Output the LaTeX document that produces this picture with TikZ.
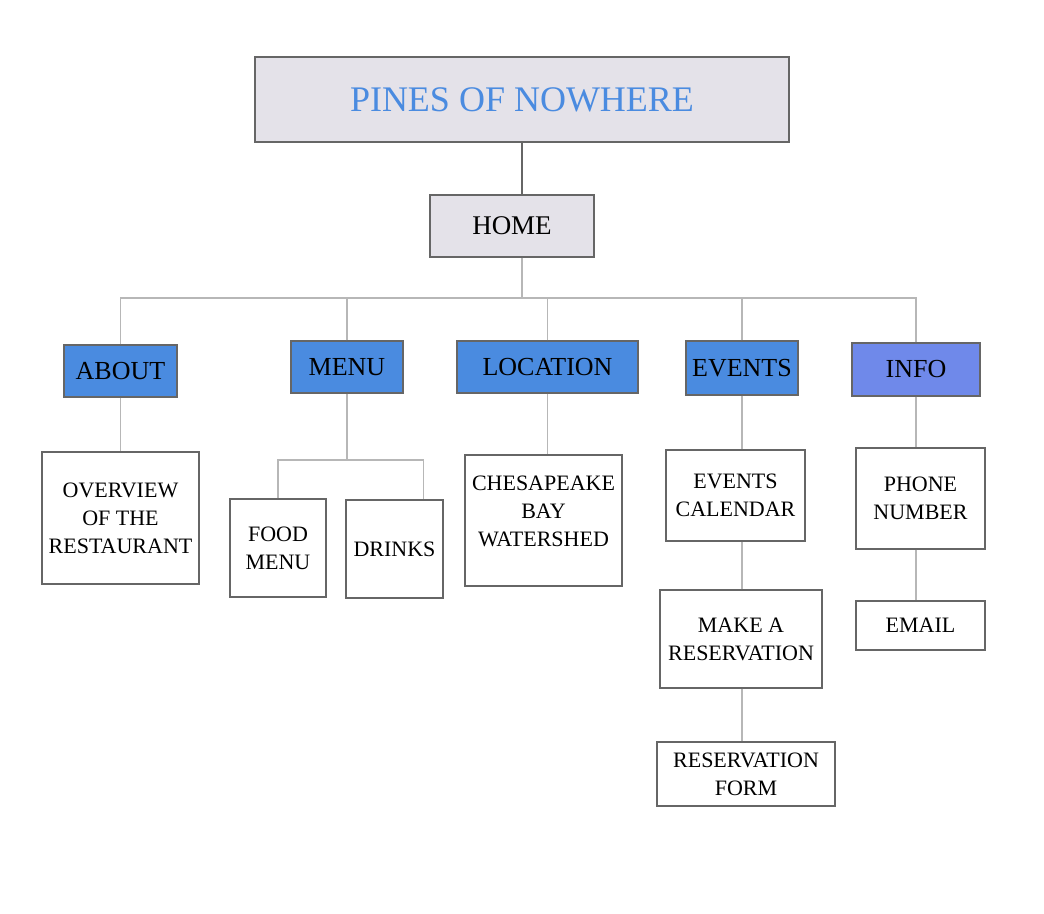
\documentclass[tikz,border=0pt]{standalone}
\usepackage{fontspec}
\setmainfont{Liberation Serif}

\definecolor{titlefill}{HTML}{E4E2E9}
\definecolor{titleblue}{HTML}{4A8BE0}
\definecolor{headblue}{HTML}{4A8BE0}
\definecolor{infoblue}{HTML}{6F89EA}
\definecolor{edge}{HTML}{666666}
\definecolor{wire}{HTML}{B7B7B7}

\begin{document}
\begin{tikzpicture}[x=1pt, y=-1pt,
    box/.style={draw=edge, line width=1.2pt, inner sep=0pt, align=center},
    leaf/.style={box, fill=white, font=\fontsize{22}{28}\selectfont},
    head/.style={box, fill=headblue, font=\fontsize{26}{30}\selectfont},
    link/.style={draw=wire, line width=1.5pt},
    dark/.style={draw=edge, line width=1.2pt}]
  \useasboundingbox (0,0) rectangle (1044,913);

      \node[box, fill=titlefill, text=titleblue, font=\fontsize{36}{40}\selectfont,
        minimum width=534pt, minimum height=85pt] (title) at (522,99.5) {PINES OF NOWHERE};
      \node[box, fill=titlefill, font=\fontsize{27}{30}\selectfont,
        minimum width=164pt, minimum height=62pt] (home) at (512,226) {HOME};

      \node[head, minimum width=113pt, minimum height=52pt] (about) at (120.5,371) {ABOUT};
      \node[head, minimum width=112pt, minimum height=52pt] (menu) at (347,367) {MENU};
      \node[head, minimum width=181pt, minimum height=52pt] (location) at (547.5,367) {LOCATION};
      \node[head, minimum width=112pt, minimum height=54pt] (events) at (742,368) {EVENTS};
      \node[head, fill=infoblue, minimum width=128pt, minimum height=53pt] (info) at (916,369.5) {INFO};

      \node[leaf, minimum width=157pt, minimum height=132pt] (overview) at (120.5,518) {OVERVIEW\\OF THE\\RESTAURANT};
      \node[leaf, minimum width=96pt, minimum height=98pt] (food) at (278,548) {FOOD\\MENU};
      \node[leaf, minimum width=97pt, minimum height=98pt] (drinks) at (394.5,549) {DRINKS};
      \node[leaf, minimum width=157pt, minimum height=131pt, text depth=18pt] (bay) at (543.5,520.5) {CHESAPEAKE\\BAY\\WATERSHED};
      \node[leaf, minimum width=139pt, minimum height=91pt] (calendar) at (735.5,495.5) {EVENTS\\CALENDAR};
      \node[leaf, minimum width=162pt, minimum height=98pt] (reserve) at (741,639) {MAKE A\\RESERVATION};
      \node[leaf, minimum width=178pt, minimum height=64pt] (form) at (746,774) {RESERVATION\\FORM};
      \node[leaf, minimum width=129pt, minimum height=101pt] (phone) at (920.5,498.5) {PHONE\\NUMBER};
      \node[leaf, minimum width=129pt, minimum height=49pt] (email) at (920.5,625.5) {EMAIL};

      \coordinate (bus) at (522,298);
      \coordinate (fork) at (347,460);

    \draw[dark] (title.south -| bus) -- (home.north -| bus);
    \draw[link] (home.south -| bus) -- (bus);
    \draw[link] (about.north) |- (bus);
    \draw[link] (menu.north) |- (bus);
    \draw[link] (location.north) |- (bus);
    \draw[link] (events.north) |- (bus);
    \draw[link] (info.north) |- (bus);

    \draw[link] (about) -- (overview);
    \draw[link] (menu.south) -- (fork);
    \draw[link] (food.north) |- (fork) -| ([xshift=-20pt]drinks.north east);
    \draw[link] (location.south) -- (location.south |- bay.north);
    \draw[link] (events.south) -- (events.south |- calendar.north);
    \draw[link] (reserve.north -| events.south) -- (calendar.south -| events.south);
    \draw[link] (reserve.south -| events.south) -- (form.north -| events.south);
    \draw[link] (info.south) -- (info.south |- phone.north);
    \draw[link] (phone.south -| info.south) -- (email.north -| info.south);
      \end{tikzpicture}
\end{document}
